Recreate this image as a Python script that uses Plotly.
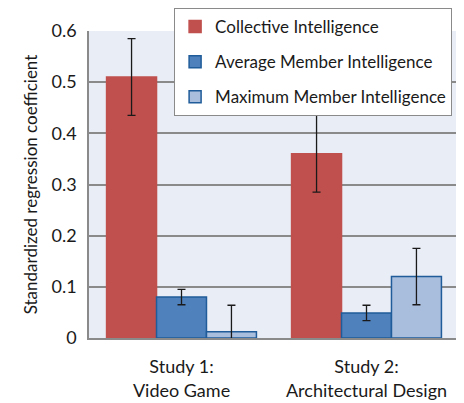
import plotly.graph_objects as go

categories = ["Study 1:<br>Video Game", "Study 2:<br>Architectural Design"]
series_names = ["Collective Intelligence", "Average Member Intelligence", "Maximum Member Intelligence"]
collective = [0.51, 0.36]
collective_err = [0.075, 0.075]
average = [0.08, 0.049]
average_err = [0.015, 0.015]
maximum = [0.012, 0.12]
maximum_err = [0.052, 0.055]
y_ticks = [0, 0.1, 0.2, 0.3, 0.4, 0.5, 0.6]
y_tick_labels = ["0", "0.1", "0.2", "0.3", "0.4", "0.5", "0.6"]

FONT = "Lato"
fills = ["#C0504D", "#4F81BD", "#A9BDDD"]
borders = ["#C0504D", "#1F5C99", "#1F5C99"]

fig = go.Figure()
for i, (name, vals, errs) in enumerate(zip(series_names,
                                            [collective, average, maximum],
                                            [collective_err, average_err, maximum_err])):
    fig.add_trace(go.Bar(
        x=categories, y=vals, name=name, legendgroup=name,
        marker=dict(color=fills[i], line=dict(color=borders[i], width=1.5)),
        error_y=dict(type="data", array=errs, color="#1a1a1a", thickness=1.3, width=4),
    ))

# page body has an 8px default margin, so the figure is drawn 8px smaller
fig.update_layout(
    width=456, height=395,
    margin=dict(l=81, r=5, t=23, b=65, autoexpand=False),
    paper_bgcolor="#FFFFFF",
    plot_bgcolor="#E8EDF6",
    barmode="group", bargap=0.19, bargroupgap=0,
    font=dict(family=FONT, size=18, color="#1a1a1a"),
    showlegend=True,
    legend=dict(x=0.23, xanchor="left", y=1.075, yanchor="top",
                bgcolor="#FFFFFF", bordercolor="#8a8a8a", borderwidth=1,
                font=dict(family=FONT, size=17, color="#1a1a1a"),
                traceorder="grouped", tracegroupgap=10),
)
fig.update_xaxes(showline=True, linecolor="#8a8a8a", linewidth=1.5, automargin=False,
                 tickfont=dict(family=FONT, size=18), ticks="", ticklabelstandoff=12)
fig.update_yaxes(range=[0, 0.6], tickvals=y_ticks, ticktext=y_tick_labels,
                 showgrid=True, gridcolor="#8a8a8a", gridwidth=1.5,
                 showline=True, linecolor="#8a8a8a", linewidth=1.5,
                 zeroline=False, ticks="", ticklabelstandoff=7, automargin=False,
                 tickfont=dict(family=FONT, size=18),
                 title=dict(text="Standardized regression coefficient",
                            font=dict(family=FONT, size=17), standoff=10))

fig.write_html("out.html")
